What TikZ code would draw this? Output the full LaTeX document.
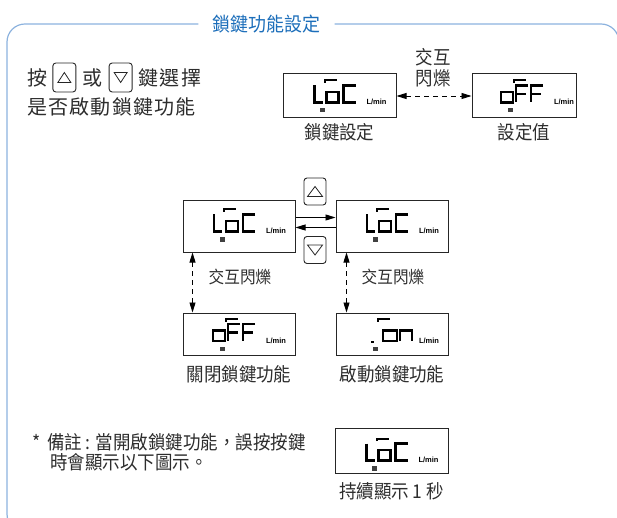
\documentclass[tikz,border=0pt]{standalone}
\usepackage{fontspec}
\setmainfont{Liberation Sans}
\newfontfamily\cjk[FakeStretch=0.92]{Noto Sans CJK TC}
\newfontfamily\cjkwide[LetterSpace=6]{Noto Sans CJK TC}
\usepackage{tikz}
\usetikzlibrary{positioning,arrows.meta}
\definecolor{frameblue}{RGB}{140,178,222}
\definecolor{titleblue}{RGB}{28,110,186}
\definecolor{txt}{RGB}{45,45,45}

\begin{document}
\begin{tikzpicture}[x=1pt,y=-1pt,
    lcd/.style={rectangle,draw=black!85,line width=1pt,inner sep=0pt,
                minimum width=112pt,minimum height=48pt},
    lbl/.style={font=\cjk\fontsize{19}{21}\selectfont,text=txt,inner sep=1pt},
    flash/.style={font=\cjk\fontsize{17}{20}\selectfont,text=txt,inner sep=1pt},
    intro/.style={font=\cjkwide\fontsize{20}{24}\selectfont,text=txt,inner xsep=0pt},
    keybtn/.style={rectangle,draw=black!85,line width=0.9pt,rounded corners=3pt,
                   minimum width=23pt,minimum height=29pt,inner sep=0pt},
    tri/.style={draw=black!85,line width=0.8pt},
    seg/.style={line width=2.5pt},
    bar/.style={line width=2pt},
    unit/.style={font=\bfseries\fontsize{7.5}{8}\selectfont,inner sep=0pt},
    arr/.style={line width=0.9pt,-{Triangle[length=10pt,width=6pt]}},
    swap/.style={line width=0.9pt,dash pattern=on 5pt off 4pt,
                 {Triangle[length=10pt,width=6pt]}-{Triangle[length=10pt,width=6pt]}},
    frame/.style={draw=frameblue,line width=1.2pt,rounded corners=18pt},
    lcdbase/.pic={
      \fill[black!75] (-19.5,10.5) rectangle (-14.5,15);
      \node[unit] (-unit) at (37,4.5) {L/min};
    },
    lcdLoC/.pic={
      \pic {lcdbase};
      \draw[seg] (-25,-12) -- (-25,5) -- (-17,5);
      \draw[seg] (-13,-5.5) rectangle (-1,5);
      \draw[seg] (16,-12) -- (4,-12) -- (4,5) -- (16,5);
      \draw[bar] (-15,-14.5) -- (-15,-17) -- (-3,-17);
    },
    lcdoFF/.pic={
      \pic {lcdbase};
      \draw[seg] (-26,-5.5) rectangle (-14,5);
      \draw[seg] (1,-12) -- (-11,-12) -- (-11,5) (-11,-3.5) -- (-1,-3.5);
      \draw[seg] (16,-12) -- (4,-12) -- (4,5) (4,-3.5) -- (14,-3.5);
      \draw[bar] (-13,-14.5) -- (-13,-17) -- (-1,-17);
    },
    lcdon/.pic={
      \pic {lcdbase};
      \draw[bar] (-21,6) -- (-18,6);
      \draw[seg] (-9,-5.5) rectangle (5,5);
      \draw[seg] (8,5) -- (8,-5.5) -- (20,-5.5) -- (20,5);
      \draw[bar] (-14,-14.5) -- (-14,-17) -- (-2,-17);
    }
]
\useasboundingbox (0,0) rectangle (617,518);

% frame and title
\node[font=\cjk\fontsize{19.5}{21}\selectfont,text=titleblue,inner xsep=14pt] (title) at (266.5,24) {鎖鍵功能設定};
\draw[frame] (title.west) -| (7,532) -- (60,532);
\draw[frame] (title.east) -| (619,532);

% how to enter
\node[intro,anchor=west] (press) at (27,77.5) {按};
\node[keybtn,right=5pt of press] (upbtn) {};
\node[intro,right=6pt of upbtn] (orword) {或};
\node[keybtn,right=6pt of orword] (dnbtn) {};
\node[intro,right=6pt of dnbtn] (select) {鍵選擇};
\node[intro,anchor=west] (enable) at (27,107) {是否啟動鎖鍵功能};
\draw[tri] ([shift={(-6.5,5)}]upbtn.center) -- ++(13,0) -- ++(-6.5,-10) -- cycle;
\draw[tri] ([shift={(-6.5,-5)}]dnbtn.center) -- ++(13,0) -- ++(-6.5,10) -- cycle;

% lock setting <-> value
\node[lcd,minimum width=113pt,minimum height=44pt] (lockset) at (339.5,96) {};
\node[lcd,minimum width=104pt,minimum height=44pt] (lockval) at (524,96) {};
\pic at ([yshift=-1.5pt]lockset.center) {lcdLoC};
\pic at ([xshift=3pt,yshift=-1.5pt]lockval.center) {lcdoFF};
\node[lbl,below=4pt of lockset] (setlbl) {鎖鍵設定};
\node[lbl,below=4pt of lockval] (vallbl) {設定值};
\draw[swap] (lockset) -- (lockval);
\node[lbl,align=center,font=\cjk\fontsize{19}{21}\selectfont] (swaplbl) at (433,67.5) {交互\\閃爍};

% up / down keys
\node[lcd,minimum height=51pt] (lockL) at (239,226.5) {};
\node[lcd,minimum height=51pt] (lockR) at (392,226.5) {};
\pic at (lockL.center) {lcdLoC};
\pic at (lockR.center) {lcdLoC};
\node[keybtn,minimum width=22pt,minimum height=27pt] (upkey) at (315,191.5) {};
\node[keybtn,minimum width=22pt,minimum height=27pt] (dnkey) at (315,250) {};
\draw[tri] ([shift={(-7.5,5)}]upkey.center) -- ++(15,0) -- ++(-7.5,-10) -- cycle;
\draw[tri] ([shift={(-7.5,-5)}]dnkey.center) -- ++(15,0) -- ++(-7.5,10) -- cycle;
\draw[arr] ([yshift=9pt]lockL.east) -- ([yshift=9pt]lockR.west);
\draw[arr] ([yshift=-1pt]lockR.west) -- ([yshift=-1pt]lockL.east);

% off / on
\node[lcd,minimum height=42pt] (lockoff) at (239,334) {};
\node[lcd,minimum height=42pt] (lockon) at (392,334) {};
\pic at ([yshift=-2pt]lockoff.center) {lcdoFF};
\pic at ([yshift=-2pt]lockon.center) {lcdon};
\draw[swap] ([xshift=10pt]lockL.south west) -- ([xshift=10pt]lockoff.north west);
\draw[swap] ([xshift=11pt]lockR.south west) -- ([xshift=11pt]lockon.north west);
\node[flash] (flashL) at (240,277) {交互閃爍};
\node[flash] (flashR) at (393,277) {交互閃爍};
\node[lbl,below=9pt of lockoff] (offlbl) {關閉鎖鍵功能};
\node[lbl,below=9pt of lockon] (onlbl) {啟動鎖鍵功能};

% note
\node[lbl,anchor=north west,align=left,font=\cjk\fontsize{19}{19.5}\selectfont] (note) at (31,432.5)
  {*\hspace{0.35em}備註 : 當開啟鎖鍵功能，誤按按鍵\\\hspace*{18pt}時會顯示以下圖示。};
\node[lcd,minimum width=113pt,minimum height=45pt] (lockhint) at (391.5,450.5) {};
\pic at ([yshift=-5pt]lockhint.center) {lcdLoC};
\node[lbl,below=8pt of lockhint] (hintlbl) {持續顯示 1 秒};
\end{tikzpicture}
\end{document}
